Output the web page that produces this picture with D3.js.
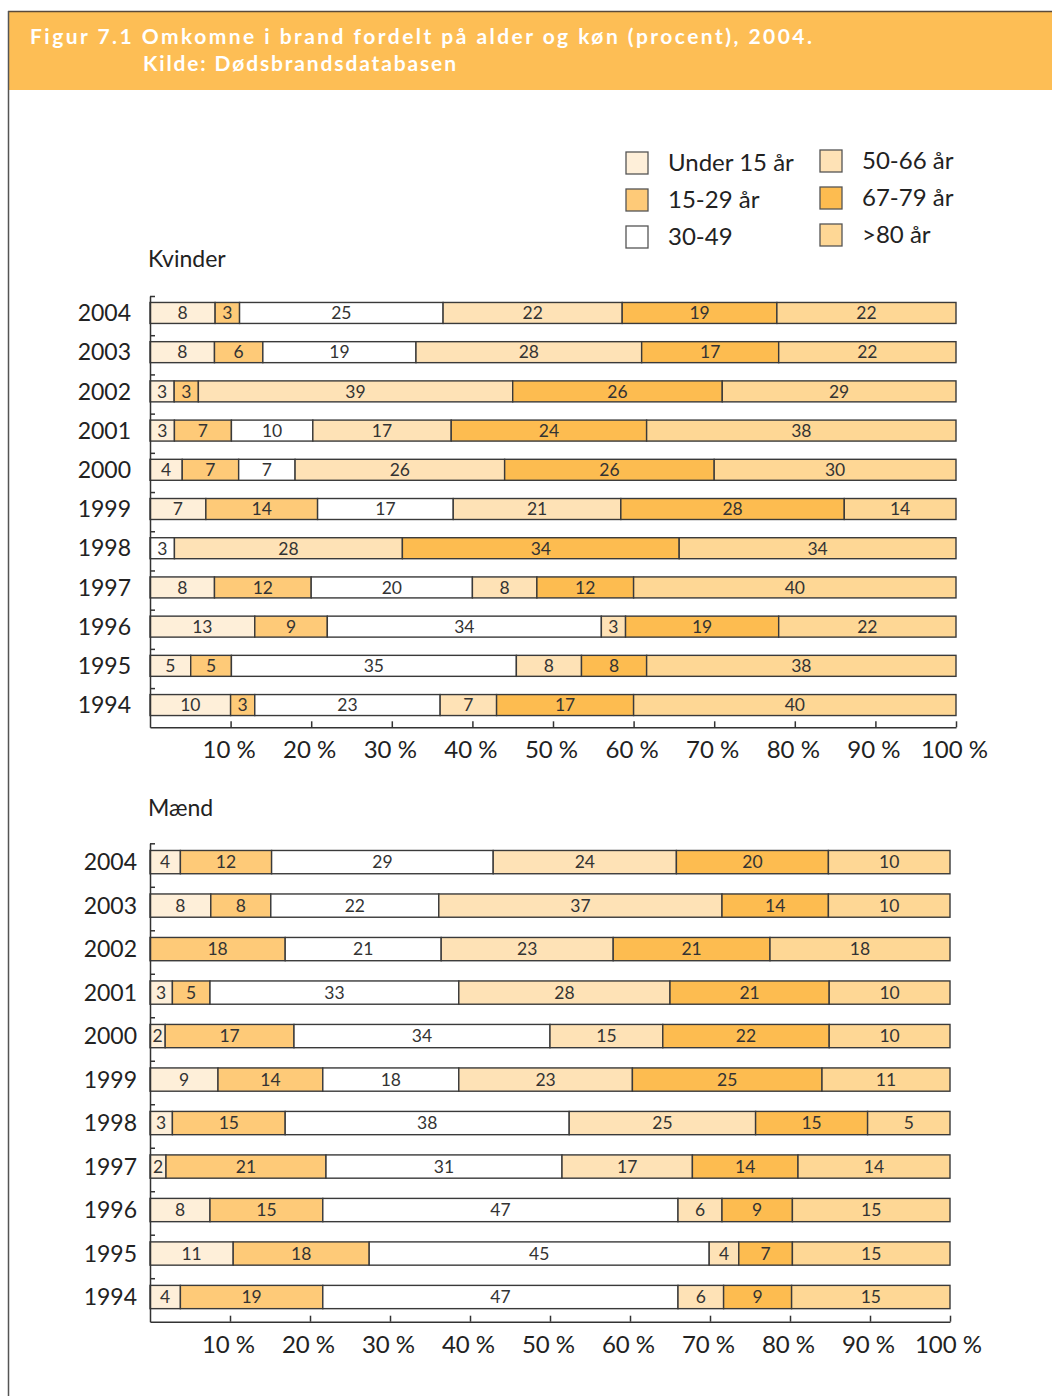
<!DOCTYPE html>
<html>
<head>
<meta charset="utf-8">
<script src="https://cdn.jsdelivr.net/npm/d3@7"></script>
<style>
  body { margin: 0; background: #fff; }
  svg { display: block; font-family: Lato, "Open Sans", sans-serif; }
</style>
</head>
<body>
<div id="chart"></div>
<script>
// Data
var years = ["2004", "2003", "2002", "2001", "2000", "1999", "1998", "1997", "1996", "1995", "1994"];
var ageGroups = ["Under 15 år", "15-29 år", "30-49", "50-66 år", "67-79 år", ">80 år"];
var ageColors = ["#FEEFD9", "#FECA78", "#FFFFFF", "#FEE2B6", "#FDBC50", "#FED795"];

// Kvinder, one row per year, columns follow ageGroups (printed labels)
var kvinder = [
  [8, 3, 25, 22, 19, 22],
  [8, 6, 19, 28, 17, 22],
  [3, 3, 0, 39, 26, 29],
  [3, 7, 10, 17, 24, 38],
  [4, 7, 7, 26, 26, 30],
  [7, 14, 17, 21, 28, 14],
  [0, 0, 3, 28, 34, 34],
  [8, 12, 20, 8, 12, 40],
  [13, 9, 34, 3, 19, 22],
  [5, 5, 35, 8, 8, 38],
  [10, 3, 23, 7, 17, 40]
];

// Mænd, printed labels
var maend = [
  [4, 12, 29, 24, 20, 10],
  [8, 8, 22, 37, 14, 10],
  [0, 18, 21, 23, 21, 18],
  [3, 5, 33, 28, 21, 10],
  [2, 17, 34, 15, 22, 10],
  [9, 14, 18, 23, 25, 11],
  [3, 15, 38, 25, 15, 5],
  [2, 21, 31, 17, 14, 14],
  [8, 15, 47, 6, 9, 15],
  [11, 18, 45, 4, 7, 15],
  [4, 19, 47, 6, 9, 15]
];

// Mænd, segment lengths as drawn in the figure (they differ from the labels)
var maendBredde = [
  [3.8, 11.4, 27.7, 22.9, 19.0, 15.2],
  [7.6, 7.5, 21.0, 35.4, 13.3, 15.2],
  [0, 16.9, 19.5, 21.5, 19.6, 22.5],
  [2.8, 4.7, 31.1, 26.4, 19.9, 15.1],
  [1.9, 16.1, 32.0, 14.1, 20.8, 15.1],
  [8.5, 13.1, 17.0, 21.7, 23.7, 16.0],
  [2.8, 14.1, 35.5, 23.3, 14.0, 10.3],
  [2.0, 20.0, 29.5, 16.3, 13.2, 19.0],
  [7.5, 14.1, 44.4, 5.5, 8.8, 19.7],
  [10.4, 17.0, 42.5, 3.7, 6.7, 19.7],
  [3.8, 17.8, 44.4, 5.7, 8.5, 19.8]
];

var pctTicks = [0.1, 0.2, 0.3, 0.4, 0.5, 0.6, 0.7, 0.8, 0.9, 1];

var svg = d3.select("#chart")
  .append("svg")
  .attr("width", 1052)
  .attr("height", 1396);

// Header band
svg.append("rect")
  .attr("x", 8).attr("y", 12)
  .attr("width", 1044).attr("height", 78)
  .attr("fill", "#FDBE55");
svg.append("line")
  .attr("x1", 8).attr("x2", 1052).attr("y1", 11.5).attr("y2", 11.5)
  .attr("stroke", "#5a4a3a").attr("stroke-width", 1.5);
svg.append("line")
  .attr("x1", 8.5).attr("x2", 8.5).attr("y1", 11).attr("y2", 1396)
  .attr("stroke", "#555").attr("stroke-width", 1.5);

svg.append("text")
  .attr("x", 30).attr("y", 43.5)
  .attr("textLength", 782).attr("lengthAdjust", "spacing")
  .attr("fill", "#fff").style("font-weight", "bold").style("font-size", "21px")
  .text("Figur 7.1 Omkomne i brand fordelt på alder og køn (procent), 2004.");
svg.append("text")
  .attr("x", 143).attr("y", 70.5)
  .attr("textLength", 313).attr("lengthAdjust", "spacing")
  .attr("fill", "#fff").style("font-weight", "bold").style("font-size", "21px")
  .text("Kilde: Dødsbrandsdatabasen");

// Legend
var legendPos = [
  [626, 152], [626, 189], [626, 226],
  [820, 150], [820, 187], [820, 224]
];
var legend = svg.append("g").selectAll("g")
  .data(ageGroups)
  .enter().append("g")
  .attr("transform", function(d, i) { return "translate(" + legendPos[i][0] + "," + legendPos[i][1] + ")"; });
legend.append("rect")
  .attr("width", 22).attr("height", 22)
  .attr("fill", function(d, i) { return ageColors[i]; })
  .attr("stroke", "#555").attr("stroke-width", 1.3);
legend.append("text")
  .attr("x", 42).attr("y", 10).attr("dy", "0.36em")
  .attr("fill", "#222").style("font-size", "24px")
  .text(function(d) { return d; });

function drawPanel(title, labels, lengths, opts) {
  var g = svg.append("g");

  var stack = d3.stack()
    .keys(d3.range(ageGroups.length))
    .value(function(d, k) { return d[k]; })
    .offset(d3.stackOffsetExpand);
  var series = stack(lengths);

  var x = d3.scaleLinear().domain([0, 1]).range([opts.x0, opts.x1]);
  var y = d3.scaleBand().domain(years).range([opts.top, opts.bottom]);
  var yLin = d3.scaleLinear().domain([0, years.length]).range([opts.top, opts.bottom]);

  var barOff = y.step() * 0.165;
  var barH = y.step() * 0.535;

  g.append("text")
    .attr("x", 148).attr("y", opts.titleY).attr("dy", "0.36em")
    .attr("fill", "#222").style("font-size", "23px")
    .text(title);

  function cells(d) {
    return d.map(function(p, i) { return { p: p, i: i, v: labels[i][d.key] }; })
      .filter(function(c) { return c.p[1] - c.p[0] > 0; });
  }

  // Segments
  var layer = g.selectAll("g.layer")
    .data(series)
    .enter().append("g")
    .attr("class", "layer")
    .attr("fill", function(d) { return ageColors[d.key]; });

  layer.selectAll("rect")
    .data(cells)
    .enter().append("rect")
    .attr("x", function(d) { return x(d.p[0]); })
    .attr("y", function(d) { return y(years[d.i]) + barOff; })
    .attr("width", function(d) { return x(d.p[1]) - x(d.p[0]); })
    .attr("height", barH)
    .attr("stroke", "#3a3a3a").attr("stroke-width", 1.4);

  layer.selectAll("text")
    .data(cells)
    .enter().append("text")
    .attr("x", function(d) { return (x(d.p[0]) + x(d.p[1])) / 2; })
    .attr("y", function(d) { return y(years[d.i]) + barOff + barH / 2; })
    .attr("dy", "0.36em")
    .attr("text-anchor", "middle")
    .attr("fill", "#333").style("font-size", "17.5px")
    .text(function(d) { return d.v; });

  // Year labels
  g.selectAll("text.year")
    .data(years)
    .enter().append("text")
    .attr("class", "year")
    .attr("x", opts.yearX)
    .attr("y", function(d) { return y(d) + barOff + barH / 2; })
    .attr("dy", "0.36em")
    .attr("text-anchor", "end")
    .attr("fill", "#222").style("font-size", "23px")
    .text(function(d) { return d; });

  // Left axis: short ticks at the top of each row
  var leftAxis = d3.axisRight(yLin)
    .tickValues(d3.range(years.length))
    .tickSize(5)
    .tickSizeOuter(0)
    .tickFormat("");
  var la = g.append("g")
    .attr("transform", "translate(" + opts.x0 + ",0)")
    .call(leftAxis);
  la.select(".domain").attr("stroke", "#333").attr("stroke-width", 1.5);
  la.selectAll(".tick line").attr("stroke", "#333").attr("stroke-width", 1.5);

  // Bottom axis, ticks pointing up
  var bottomAxis = d3.axisBottom(x)
    .tickValues(pctTicks)
    .tickSize(-6)
    .tickSizeOuter(0)
    .tickFormat(function(d) { return Math.round(d * 100) + " %"; });
  var ba = g.append("g")
    .attr("transform", "translate(0," + opts.bottom + ")")
    .call(bottomAxis);
  ba.select(".domain").attr("stroke", "#333").attr("stroke-width", 1.5);
  ba.selectAll(".tick line").attr("stroke", "#333").attr("stroke-width", 1.5);
  ba.selectAll(".tick text")
    .attr("x", -2)
    .attr("y", 31).attr("dy", 0)
    .attr("fill", "#222")
    .style("font-size", "24px")
    .style("font-family", "Lato, 'Open Sans', sans-serif");
}

drawPanel("Kvinder", kvinder, kvinder, { x0: 150, x1: 956, top: 296, bottom: 727.3, yearX: 131, titleY: 259 });
drawPanel("Mænd", maend, maendBredde, { x0: 150, x1: 950, top: 843.3, bottom: 1321.7, yearX: 137, titleY: 808 });
</script>
</body>
</html>
